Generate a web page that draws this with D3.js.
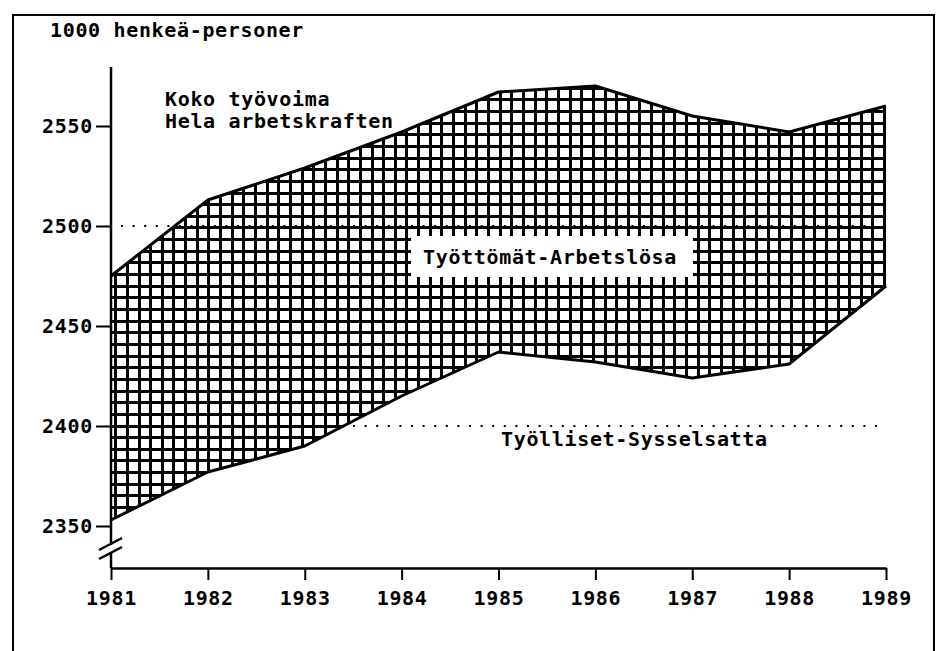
<!DOCTYPE html>
<meta charset='utf-8'>
<style>
  body { margin: 0; background: #fff; }
  text { font-family: 'DejaVu Sans Mono', monospace; fill: #000; font-weight: bold; }
  .lbl { font-size: 20px; letter-spacing: 0.66px; }
  .tick text { font-size: 20px; letter-spacing: 0.7px; }
  .grid line { shape-rendering: crispEdges; }
</style>
<body>
<script src='https://d3js.org/d3.v7.min.js'></script>
<script>
  // Työvoima 1981-1989, 1000 henkeä
  const years = [1981, 1982, 1983, 1984, 1985, 1986, 1987, 1988, 1989]
  const labourForce = [2475, 2513, 2529, 2547, 2567, 2570, 2555, 2547, 2560]
  const employed    = [2353, 2377, 2390, 2415, 2437, 2432, 2424, 2431, 2470]
  const yTicks = [2350, 2400, 2450, 2500, 2550]
  const refLines = [2500, 2400]

  const W = 938, H = 651
  const x = d3.scaleLinear().domain([1981, 1989]).range([111, 886])
  const y = d3.scaleLinear().domain([2350, 2550]).range([526, 126])
  const axisTop = 67, axisBottom = 568

  const svg = d3.select('body').append('svg')
    .attr('width', W).attr('height', H)

  // frame
  svg.append('path')
    .attr('d', `M13,${H + 5}V15H934V${H + 5}`)
    .attr('fill', 'none').attr('stroke', '#000').attr('stroke-width', 2)

  const data = years.map((yr, i) => ({yr, top: labourForce[i], bot: employed[i]}))

  // dotted reference lines
  svg.selectAll('.ref').data(refLines).join('line')
    .attr('class', 'ref')
    .attr('x1', 121).attr('x2', (d, i) => i === 0 ? 873 : 886)
    .attr('y1', d => y(d)).attr('y2', d => y(d))
    .attr('stroke', '#000').attr('stroke-width', 2)
    .attr('stroke-dasharray', '2,9.6')

  // hatched area between the two series
  const area = d3.area()
    .x(d => x(d.yr))
    .y0(d => y(d.bot))
    .y1(d => y(d.top))

  svg.append('clipPath').attr('id', 'band')
    .append('path').attr('d', area(data))

  const step = 11.65
  const hatch = svg.append('g').attr('class', 'grid').attr('clip-path', 'url(#band)')
  hatch.selectAll('.vl').data(d3.range(115.7, 890, step)).join('line')
    .attr('x1', d => d).attr('x2', d => d)
    .attr('y1', 60).attr('y2', 540)
    .attr('stroke', '#000').attr('stroke-width', 3)
  hatch.selectAll('.hl').data(d3.range(y(2400) - step * 32, 540, step)).join('line')
    .attr('y1', d => d).attr('y2', d => d)
    .attr('x1', 105).attr('x2', 892)
    .attr('stroke', '#000').attr('stroke-width', 3)

  // series outlines
  const line = key => d3.line().x(d => x(d.yr)).y(d => y(d[key]))
  ;['top', 'bot'].forEach(k => {
    svg.append('path')
      .attr('d', line(k)(data))
      .attr('fill', 'none').attr('stroke', '#000')
      .attr('stroke-width', 3).attr('stroke-linejoin', 'round')
  })

  // y axis with break
  svg.append('path')
    .attr('d', `M111,${axisTop}V545M111,552V${axisBottom}`)
    .attr('stroke', '#000').attr('stroke-width', 2.5)
  svg.append('path')
    .attr('d', 'M99,550L122,538M99,559L122,547')
    .attr('stroke', '#000').attr('stroke-width', 2.5)

  const yAxis = svg.append('g')
    .attr('transform', 'translate(111,0)')
    .call(d3.axisLeft(y).tickValues(yTicks).tickFormat(d3.format('d'))
      .tickSize(15).tickPadding(3))
  yAxis.select('.domain').remove()
  yAxis.selectAll('.tick line').attr('stroke-width', 2)

  const xAxis = svg.append('g')
    .attr('transform', `translate(0,${axisBottom})`)
    .call(d3.axisBottom(x).tickValues(years).tickFormat(d3.format('d'))
      .tickSize(12).tickPadding(11).tickSizeOuter(0))
  xAxis.select('.domain').attr('stroke-width', 2.5)
  xAxis.selectAll('.tick line').attr('stroke-width', 2)

  // label box
  svg.append('rect')
    .attr('x', 411).attr('y', 236).attr('width', 282).attr('height', 41)
    .attr('fill', '#fff')

  const labels = [
    {t: '1000 henkeä-personer', x: 50, y: 37},
    {t: 'Koko työvoima', x: 165, y: 106},
    {t: 'Hela arbetskraften', x: 165, y: 128},
    {t: 'Työttömät-Arbetslösa', x: 423, y: 264},
    {t: 'Työlliset-Sysselsatta', x: 501, y: 446}
  ]
  svg.selectAll('.lbl').data(labels).join('text')
    .attr('class', 'lbl')
    .attr('x', d => d.x).attr('y', d => d.y)
    .text(d => d.t)
</script>
</body>
